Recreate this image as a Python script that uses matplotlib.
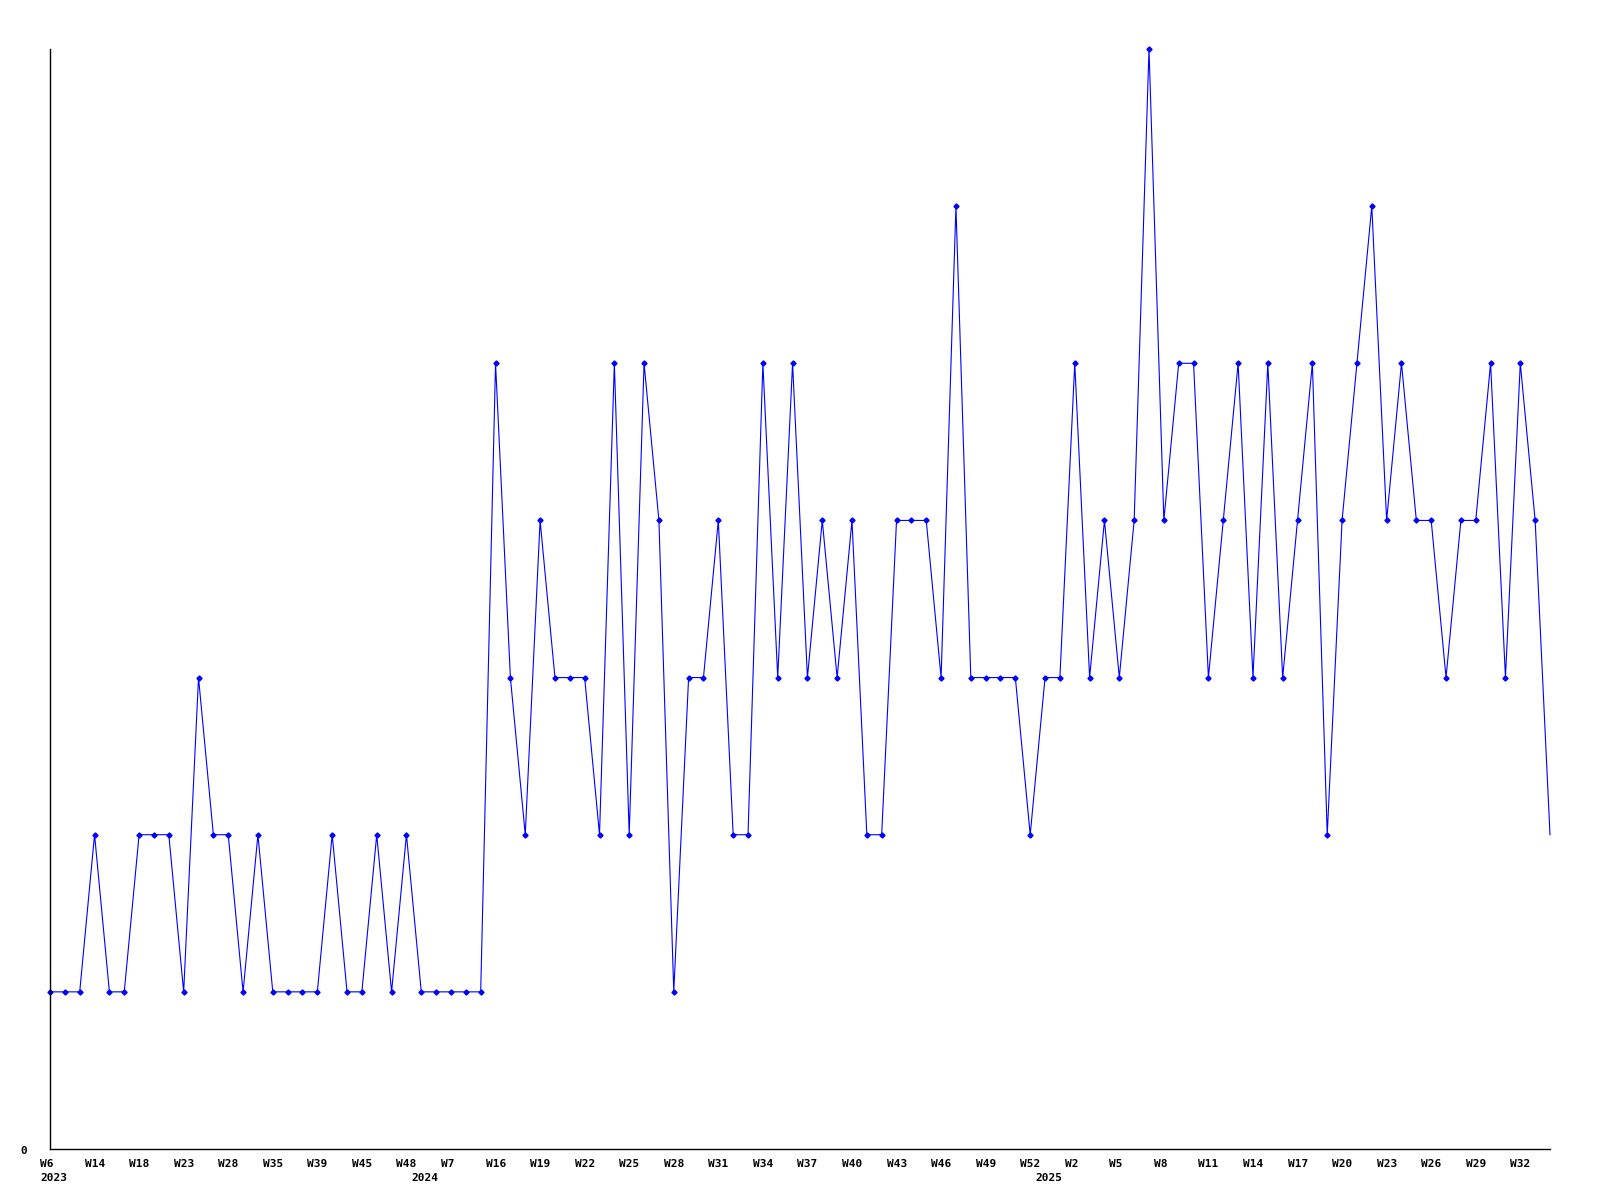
import numpy as np
import matplotlib
matplotlib.use("Agg")
import matplotlib.pyplot as plt

# weekly counts (one point per reported week)
values = [1, 1, 1, 2, 1, 1, 2, 2, 2, 1,
          3, 2, 2, 1, 2, 1, 1, 1, 1, 2,
          1, 1, 2, 1, 2, 1, 1, 1, 1, 1,
          5, 3, 2, 4, 3, 3, 3, 2, 5, 2,
          5, 4, 1, 3, 3, 4, 2, 2, 5, 3,
          5, 3, 4, 3, 4, 2, 2, 4, 4, 4,
          3, 6, 3, 3, 3, 3, 2, 3, 3, 5,
          3, 4, 3, 4, 7, 4, 5, 5, 3, 4,
          5, 3, 5, 3, 4, 5, 2, 4, 5, 6,
          4, 5, 4, 4, 3, 4, 4, 5, 3, 5,
          4, 2]

# label shown every third point
week_labels = ["W6", "W14", "W18", "W23", "W28", "W35", "W39", "W45", "W48",
               "W7", "W16", "W19", "W22", "W25", "W28", "W31", "W34", "W37",
               "W40", "W43", "W46", "W49", "W52", "W2", "W5", "W8", "W11",
               "W14", "W17", "W20", "W23", "W26", "W29", "W32"]
label_step = 3

# year markers: (point index, year)
year_idx = [0, 25, 67]
year_labels = ["2023", "2024", "2025"]

font = dict(family="DejaVu Sans Mono", fontweight="bold", fontsize=8, color="black")

fig = plt.figure(figsize=(16, 12), dpi=100)
ax = fig.add_axes([50 / 1600, 1 - 1149 / 1200, 1500 / 1600, 1100 / 1200])

x = np.arange(len(values))
ax.plot(x, values, color="#0000ff", lw=0.8, marker="D", ms=2.6,
        markevery=list(range(len(values) - 1)), clip_on=False)

ax.set_xlim(0, len(values) - 1)
ax.set_ylim(0, 7)
ax.set_xticks([])
ax.set_yticks([])
for s in ["top", "right"]:
    ax.spines[s].set_visible(False)
for s in ["left", "bottom"]:
    ax.spines[s].set_color("black")
    ax.spines[s].set_linewidth(1.0)

for k, lab in enumerate(week_labels):
    ax.annotate(lab, xy=(k * label_step, 0), xycoords=("data", "axes fraction"),
                xytext=(-10, -10), textcoords="offset pixels",
                ha="left", va="top", **font)

for i, lab in zip(year_idx, year_labels):
    ax.annotate(lab, xy=(i, 0), xycoords=("data", "axes fraction"),
                xytext=(-10, -24), textcoords="offset pixels",
                ha="left", va="top", **font)

ax.annotate("0", xy=(0, 0), xycoords="axes fraction",
            xytext=(-30, -2), textcoords="offset pixels",
            ha="left", va="center", **font)

fig.savefig("out.png", dpi=100, facecolor="white")
